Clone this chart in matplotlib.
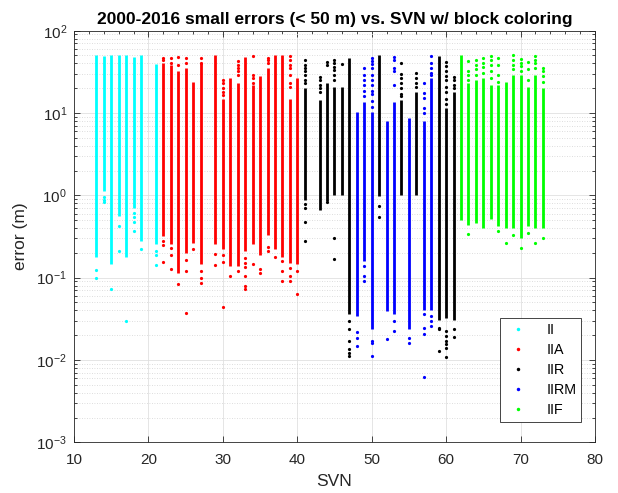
import matplotlib.pyplot as plt
from matplotlib.lines import Line2D

plt.rcParams['font.family'] = ['Liberation Sans', 'DejaVu Sans']
plt.rcParams['mathtext.default'] = 'regular'

# per-block satellite numbers, dense error range (m) and sparse extreme points
II_SVN = [13, 14, 15, 16, 17, 18, 19, 21]
II_LO = [0.18, 1.12, 0.145, 0.556, 0.177, 0.70, 0.277, 0.253]
II_HI = [50, 49, 50, 50, 50, 48, 50, 39]
II_SPARSE = {13: [0.123, 0.10], 14: [0.95, 0.88, 0.83], 15: [0.072],
             16: [0.42, 0.213], 17: [0.030], 18: [0.61, 0.54, 0.48, 0.37],
             19: [0.224], 21: [0.213, 0.19, 0.142]}

IIA_SVN = [22, 23, 24, 25, 26, 27, 29, 30, 31, 32, 33, 34, 35, 36, 37, 38, 39, 40]
IIA_LO = [0.318, 0.253, 0.114, 0.20, 0.264, 0.145, 0.253, 0.22, 0.138,
          0.138, 0.21, 0.253, 0.19, 0.334, 0.22, 0.18, 0.151, 0.145]
IIA_HI = [40, 38, 32, 35, 24, 40, 50, 15, 26.5, 23, 48, 22, 28, 35, 50, 50, 15, 27]
IIA_SPARSE = {22: [47, 44, 0.277, 0.248, 0.155], 23: [47, 41, 0.23, 0.19, 0.129],
              24: [48, 38, 0.083], 25: [47, 40, 0.166, 0.12, 0.0375],
              26: [0.22], 27: [47, 41, 0.12, 0.10, 0.087], 29: [0.195, 0.142],
              30: [25, 23, 20, 18, 16.6, 0.19, 0.155, 0.044], 31: [0.104],
              32: [43, 38, 35, 32, 29, 0.12],
              33: [0.174, 0.151, 0.134, 0.104, 0.079, 0.072],
              34: [49, 29, 26.5, 23, 0.145], 35: [0.126, 0.114],
              36: [47, 44, 40, 0.234, 0.213], 37: [0.18],
              38: [0.158, 0.122, 0.092],
              39: [49, 44, 38, 35, 29, 23, 21, 0.131, 0.104, 0.09],
              40: [0.12, 0.064]}

IIR_SVN = [41, 43, 44, 45, 46, 47, 51, 54, 56, 59, 60, 61]
IIR_LO = [0.89, 0.67, 0.85, 1.0, 1.0, 0.036, 0.97, 1.0, 1.0, 0.031, 0.0325, 0.031]
IIR_HI = [20, 14.5, 23, 21, 21, 47, 50, 14.5, 18, 49, 11.4, 18]
IIR_SPARSE = {41: [44, 38, 35, 32, 29, 25, 23, 0.785, 0.70, 0.47, 0.282],
              43: [27.6, 25, 22, 20, 18], 44: [42, 38, 0.83],
              45: [44, 40, 36, 33, 29, 25, 0.30, 0.169], 46: [39],
              47: [0.0297, 0.0236, 0.017, 0.0135, 0.0122, 0.0112],
              51: [0.74, 0.55], 54: [40, 30, 26.5, 23, 20, 17, 16],
              56: [30.5, 26.5, 23, 21], 59: [0.0246, 0.0236, 0.0128],
              60: [42, 37, 32, 28, 25, 21, 18, 15, 13,
                   0.0225, 0.0195, 0.017, 0.0155, 0.0141, 0.0109],
              61: [27.6, 25, 22, 20, 0.0236, 0.019]}

IIRM_SVN = [48, 49, 50, 52, 53, 55, 57, 58]
IIRM_LO = [0.034, 0.158, 0.0236, 0.039, 0.036, 0.0236, 0.041, 0.041]
IIRM_HI = [10.4, 13.8, 10.4, 7.9, 13.8, 8.6, 7.9, 26.5]
IIRM_SPARSE = {48: [0.022, 0.0183, 0.0147],
               49: [35.6, 29, 25, 22, 18.5, 16, 0.138, 0.104, 0.09],
               50: [47, 43.3, 39, 35, 29, 25, 22, 18.5, 17, 14, 12,
                    0.017, 0.0162, 0.0112],
               52: [0.018], 53: [48, 44, 35, 32, 22, 0.0297, 0.0225],
               55: [0.0187, 0.016],
               57: [23, 17.4, 15.1, 11.4, 9.9, 0.036, 0.0246, 0.0205, 0.0063],
               58: [49, 40, 35, 31, 29, 0.034, 0.030, 0.026]}

IIF_SVN = [62, 63, 64, 65, 66, 67, 68, 69, 70, 71, 72, 73]
IIF_LO = [0.507, 0.44, 0.46, 0.40, 0.51, 0.42, 0.40, 0.40, 0.30, 0.42, 0.40, 0.40]
IIF_HI = [50, 23, 25, 26.5, 22, 22, 24, 29, 29, 21, 29, 20]
IIF_SPARSE = {63: [43, 32, 29, 25, 0.343], 64: [44, 38, 34, 29],
              65: [46, 41, 36, 31], 66: [49, 44, 38, 32, 26.5],
              67: [46, 38, 29, 24, 0.366], 68: [0.264],
              69: [50, 44, 38, 34, 0.334], 70: [45, 41, 37, 32, 0.23],
              71: [42, 34, 25, 0.35], 72: [49, 44, 40, 35, 0.264],
              73: [35.6, 32, 28, 24, 0.30]}

BLOCK_NAMES = ['II', 'IIA', 'IIR', 'IIRM', 'IIF']
BLOCK_COLORS = ['#00ffff', '#ff0000', '#000000', '#0000ff', '#00ff00']
BLOCK_DATA = [(II_SVN, II_LO, II_HI, II_SPARSE),
              (IIA_SVN, IIA_LO, IIA_HI, IIA_SPARSE),
              (IIR_SVN, IIR_LO, IIR_HI, IIR_SPARSE),
              (IIRM_SVN, IIRM_LO, IIRM_HI, IIRM_SPARSE),
              (IIF_SVN, IIF_LO, IIF_HI, IIF_SPARSE)]

TXT = '#262626'

fig = plt.figure(figsize=(6.18, 4.93), dpi=100)
ax = fig.add_axes([0.1197, 0.1028, 0.8431, 0.8349])

handles = []
for name, color, (svn, lo, hi, sparse) in zip(BLOCK_NAMES, BLOCK_COLORS, BLOCK_DATA):
    # dense part of each satellite's error column
    ax.vlines(svn, lo, hi, colors=color, lw=2.0, zorder=3)
    xs = [s for s, errs in sparse.items() for _ in errs]
    ys = [e for errs in sparse.values() for e in errs]
    ax.plot(xs, ys, 'o', ms=2.3, mew=0, color=color, zorder=3)
    handles.append(Line2D([0], [0], marker='o', ms=2.5, mew=0, ls='none',
                          color=color, label=name))

ax.set_yscale('log')
ax.set_xlim(10, 80)
ax.set_ylim(1e-3, 1e2)
ax.set_xticks(range(10, 81, 10))
ax.minorticks_on()
ax.xaxis.set_tick_params(which='minor', bottom=False, top=False)

ax.set_axisbelow(True)
ax.grid(True, which='major', color='#e0e0e0', lw=0.6)
ax.grid(True, which='minor', axis='y', color='#d2d2d2', lw=0.6, ls=(0, (1, 2)))

ax.tick_params(which='both', direction='in', top=True, right=True,
               colors=TXT, labelsize=11, width=0.6)
ax.tick_params(which='major', length=4.5)
ax.tick_params(which='minor', length=2.5)
ax.tick_params(axis='x', which='major', pad=8)
ax.tick_params(axis='y', which='major', pad=5)
for sp in ax.spines.values():
    sp.set_color(TXT)
    sp.set_linewidth(0.6)

ax.set_title('2000-2016 small errors (< 50 m) vs. SVN w/ block coloring',
             fontsize=12.5, fontweight='bold', pad=4.5)
ax.set_xlabel('SVN', fontsize=12.5, color=TXT, labelpad=5)
ax.set_ylabel('error (m)', fontsize=12.5, color=TXT, labelpad=6)

leg = ax.legend(handles=handles, loc='lower right', bbox_to_anchor=(0.9735, 0.049),
                fontsize=10.3, frameon=True, fancybox=False, framealpha=1,
                edgecolor=TXT, labelspacing=0.42, handlelength=1.75,
                handletextpad=1.1, borderpad=0.35, borderaxespad=0)
leg.get_frame().set_linewidth(0.6)

fig.savefig('out.png', dpi=100)
